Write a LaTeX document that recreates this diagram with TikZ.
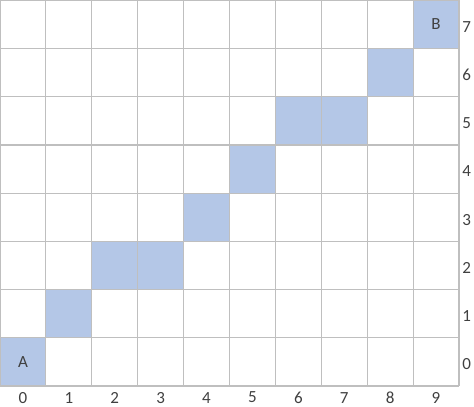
\documentclass[tikz,border=0pt]{standalone}
\usepackage{fontspec}
\setmainfont{Carlito}
\definecolor{cellblue}{HTML}{B4C7E7}
\definecolor{gridgray}{HTML}{BFBFBF}
\definecolor{labelgray}{HTML}{404040}
\begin{document}
\begin{tikzpicture}[x=45.9pt, y=48.2pt,
    every node/.style={font=\fontsize{17}{19}\selectfont, text=labelgray},
    pathcell/.style={fill=cellblue},
    gridline/.style={draw=gridgray, line width=1.1pt}]
        \useasboundingbox (0,-0.4357) rectangle (10.327,8.0083);

        % Path cells (column, row)
        \foreach \cx/\cy in {0/0, 1/1, 2/2, 3/2, 4/3, 5/4, 6/5, 7/5, 8/6, 9/7}
            \fill[pathcell] (\cx,\cy) rectangle ++(1,1);

        % Grid
        \foreach \i in {0,...,10}
            \draw[gridline] (\i,0) -- (\i,8);
        \foreach \j in {0,...,8}
            \draw[gridline] (0,\j) -- (10,\j);

        % Start and goal
        \node (start) at (0.5,0.5) {A};
        \node (goal)  at (9.5,7.5) {B};

        % Axis numbers
        \foreach \i in {0,...,9}
            \node (col\i) at (\i+0.5,-0.24) {\i};
        \foreach \j in {0,...,7}
            \node (row\j) at (10.17,\j+0.45) {\j};
    \end{tikzpicture}
\end{document}
